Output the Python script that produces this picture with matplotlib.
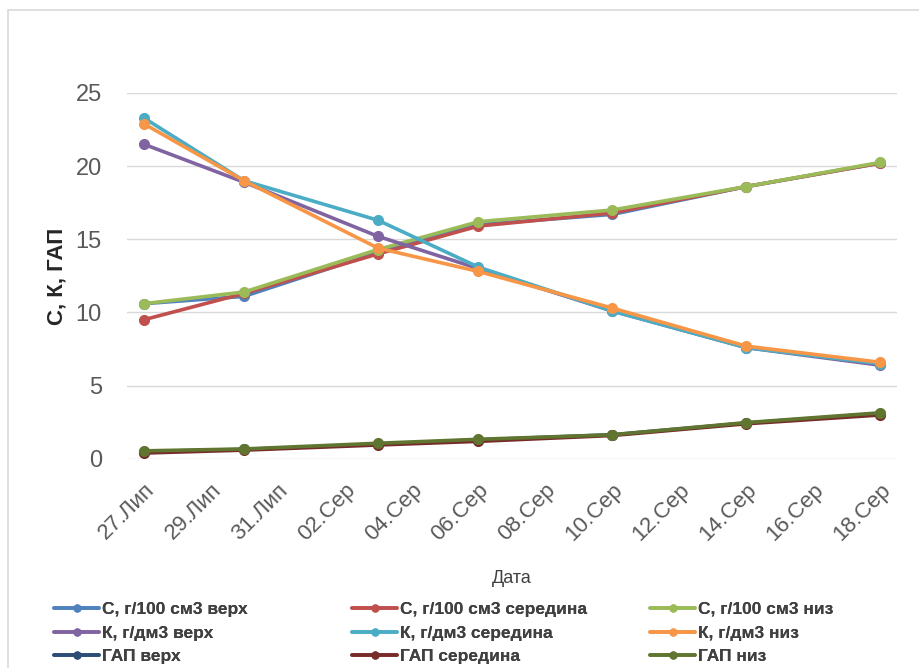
import matplotlib
matplotlib.use("Agg")
import matplotlib.pyplot as plt
import matplotlib.patches as mpatches
import pandas as pd

plt.rcParams['font.family'] = ['Liberation Sans', 'DejaVu Sans']

dates = pd.to_datetime(["2023-07-27", "2023-07-30", "2023-08-03", "2023-08-06",
                        "2023-08-10", "2023-08-14", "2023-08-18"])

c_top = [10.6, 11.1, 14.1, 16.0, 16.7, 18.6, 20.2]
c_mid = [9.5, 11.3, 14.0, 15.9, 16.8, 18.6, 20.2]
c_low = [10.6, 11.4, 14.3, 16.2, 17.0, 18.6, 20.25]
k_top = [21.5, 18.9, 15.2, 13.0, 10.1, 7.6, 6.4]
k_mid = [23.3, 19.0, 16.3, 13.1, 10.1, 7.6, 6.5]
k_low = [22.9, 19.0, 14.4, 12.8, 10.3, 7.7, 6.6]
gap_top = [0.5, 0.65, 1.0, 1.3, 1.65, 2.45, 3.1]
gap_mid = [0.4, 0.6, 0.95, 1.2, 1.6, 2.4, 3.0]
gap_low = [0.55, 0.68, 1.07, 1.34, 1.65, 2.48, 3.15]

tick_dates = pd.date_range("2023-07-27", "2023-08-18", freq="2D")
tick_labels = ["27.Лип", "29.Лип", "31.Лип", "02.Сер", "04.Сер", "06.Сер",
               "08.Сер", "10.Сер", "12.Сер", "14.Сер", "16.Сер", "18.Сер"]

# legend columns: верх / середина / низ
columns = [
    [("С, г/100 см3 верх", c_top, "#4F81BD"),
     ("К, г/дм3 верх", k_top, "#8064A2"),
     ("ГАП верх", gap_top, "#2C4D75")],
    [("С, г/100 см3 середина", c_mid, "#C0504D"),
     ("К, г/дм3 середина", k_mid, "#4BACC6"),
     ("ГАП середина", gap_mid, "#772C2A")],
    [("С, г/100 см3 низ", c_low, "#9BBB59"),
     ("К, г/дм3 низ", k_low, "#F79646"),
     ("ГАП низ", gap_low, "#5F7530")],
]

fig = plt.figure(figsize=(9.19, 6.68), dpi=100)
ax = fig.add_axes([0.138, 0.313, 0.838, 0.548])

col_handles = [[None] * 3 for _ in range(3)]
for row in range(3):
    for c in range(3):
        name, vals, col = columns[c][row]
        h, = ax.plot(dates, vals, color=col, lw=2.6, marker="o", ms=7,
                     solid_capstyle="round", label=name)
        col_handles[c][row] = h

ax.set_ylim(0, 25)
ax.set_yticks([0, 5, 10, 15, 20, 25])
ax.set_xlim(pd.Timestamp("2023-07-26 12:00"), pd.Timestamp("2023-08-18 12:00"))
ax.set_xticks(tick_dates)
ax.set_xticklabels(tick_labels, rotation=45, ha="right", rotation_mode="anchor")
ax.tick_params(axis="both", length=0, colors="#595959")
ax.tick_params(axis="x", pad=15, labelsize=16)
ax.tick_params(axis="y", pad=18, labelsize=17)
ax.grid(axis="y", color="#D9D9D9", lw=1)
ax.set_axisbelow(True)
for s in ax.spines.values():
    s.set_visible(False)

ax.set_ylabel("С, К, ГАП", fontsize=16, fontweight="bold", color="#262626", labelpad=6)
ax.set_xlabel("Дата", fontsize=13, color="#404040", labelpad=18)

col_x = [54, 352, 650]
for c in range(3):
    leg = fig.legend(col_handles[c], [e[0] for e in columns[c]],
                     loc="center left", bbox_to_anchor=(col_x[c] / 919, 1 - 633 / 668),
                     frameon=False, handlelength=2.6, handletextpad=0.15,
                     labelspacing=0.5, borderpad=0, borderaxespad=0,
                     markerscale=0.7,
                     prop={"size": 12.5, "weight": "bold"})
    for t in leg.get_texts():
        t.set_color("#404040")
    fig.add_artist(leg)

fig.patches.append(mpatches.Rectangle((8 / 919, -0.1), 1.1, 1 - 10 / 668 + 0.1,
                                      transform=fig.transFigure, fill=False,
                                      edgecolor="#D9D9D9", lw=1.2))

fig.savefig("out.png", dpi=100)
